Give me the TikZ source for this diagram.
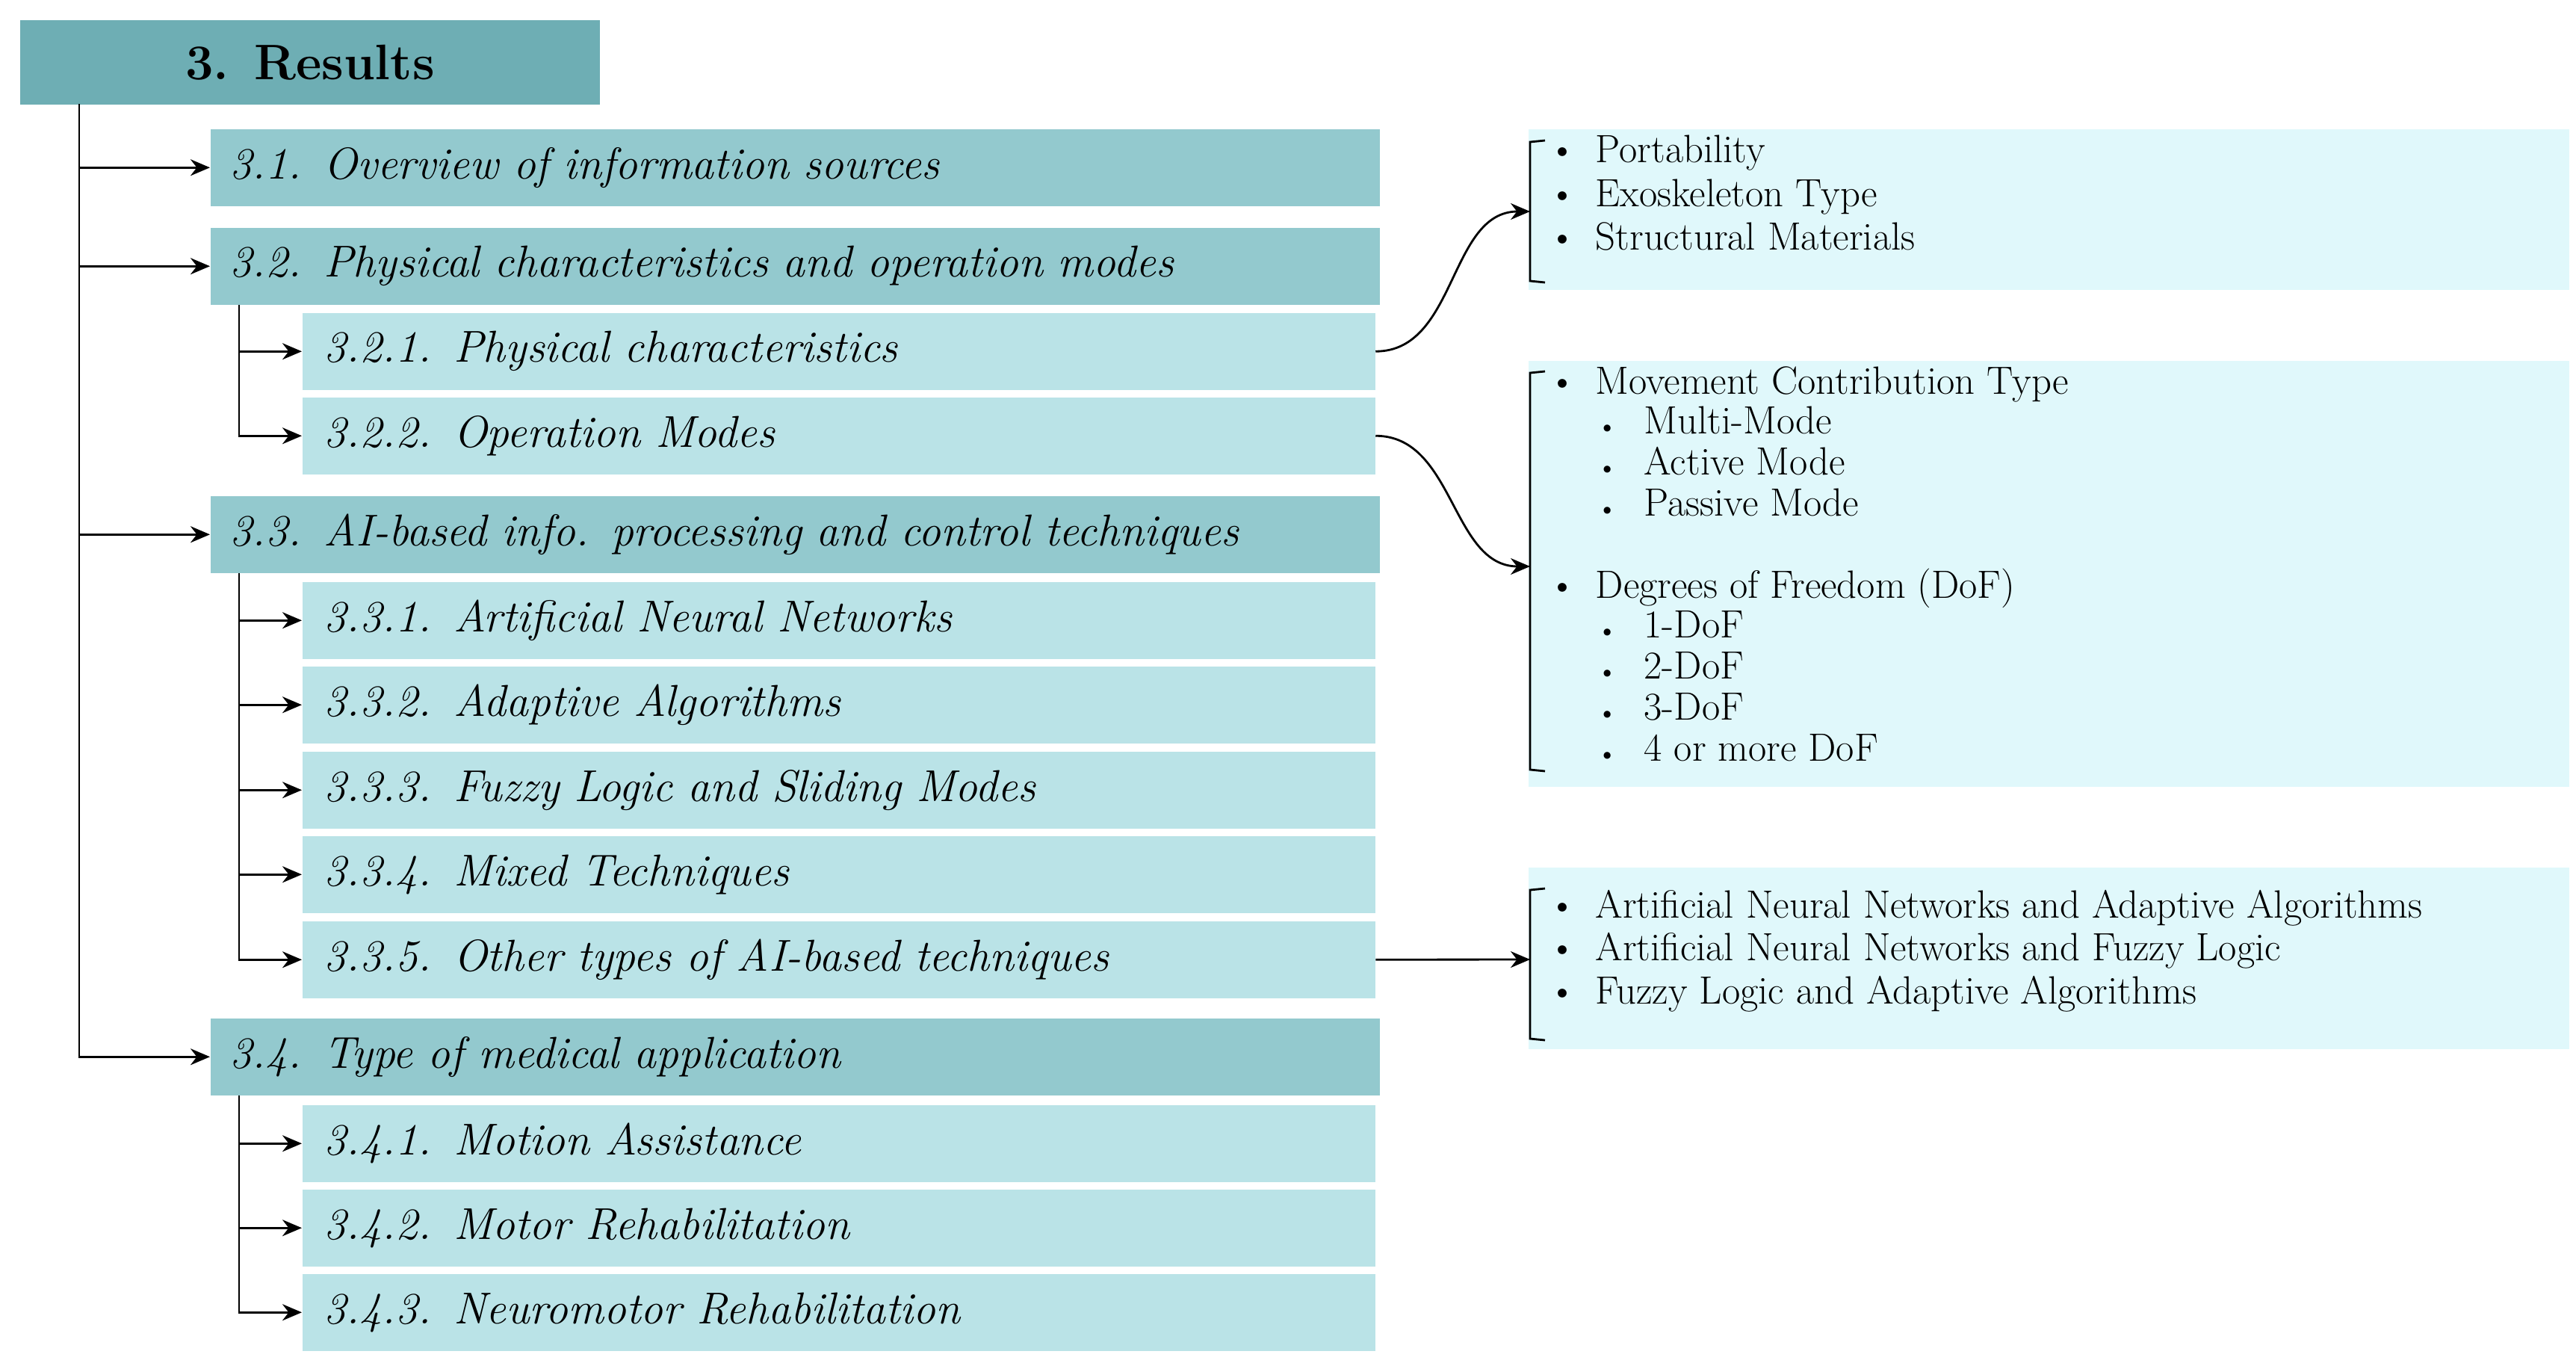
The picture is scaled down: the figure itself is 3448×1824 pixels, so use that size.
\documentclass[tikz,border=0pt]{standalone}
\usetikzlibrary{arrows.meta}
\definecolor{c0}{HTML}{6EAEB4}
\definecolor{c1}{HTML}{93C9CE}
\definecolor{c2}{HTML}{BAE3E7}
\definecolor{c3}{HTML}{E0F8FB}
\begin{document}
\begin{tikzpicture}[x=0.01cm,y=-0.01cm,
  l1/.style={fill=c1,anchor=north west,minimum height=10.3mm,text width=151.2mm,inner xsep=2.6mm,inner ysep=0pt,align=left,font=\fontsize{17}{20}\selectfont\itshape},
  l2/.style={fill=c2,anchor=north west,minimum height=10.3mm,text width=137.7mm,inner xsep=2.9mm,inner ysep=0pt,align=left,font=\fontsize{17}{20}\selectfont\itshape},
  rb/.style={fill=c3,anchor=north west,inner sep=0pt},
  it/.style={anchor=base west,inner sep=0pt,font=\fontsize{15}{18}\selectfont},
  bl/.style={anchor=base west,inner sep=0pt,font=\fontsize{15}{18}\selectfont},
  sb/.style={anchor=base west,inner sep=0pt,font=\fontsize{9}{10}\selectfont},
  arr/.style={line width=0.8pt,-{Stealth[length=2.6mm,width=2.2mm]}},
  br/.style={line width=0.8pt}]
\useasboundingbox (0,0) rectangle (3448,1824);
% title
\node[fill=c0,anchor=north west,minimum width=77.6mm,minimum height=11.3mm,inner sep=0pt,font=\fontsize{19}{22}\selectfont\bfseries] (title) at (26,26) {3. Results};
% level 1
\node[l1] (n31) at (281,172) {3.1. Overview of information sources};
\node[l1] (n32) at (281,304) {3.2. Physical characteristics and operation modes};
\node[l1] (n33) at (281,663) {3.3. AI-based info. processing and control techniques};
\node[l1] (n34) at (281,1362) {3.4. Type of medical application};
% level 2
\node[l2] (n321) at (404,418) {3.2.1. Physical characteristics};
\node[l2] (n322) at (404,531) {3.2.2. Operation Modes};
\node[l2] (n331) at (404,778) {3.3.1. Artificial Neural Networks};
\node[l2] (n332) at (404,891) {3.3.2. Adaptive Algorithms};
\node[l2] (n333) at (404,1005) {3.3.3. Fuzzy Logic and Sliding Modes};
\node[l2] (n334) at (404,1118) {3.3.4. Mixed Techniques};
\node[l2] (n335) at (404,1232) {3.3.5. Other types of AI-based techniques};
\node[l2] (n341) at (404,1478) {3.4.1. Motion Assistance};
\node[l2] (n342) at (404,1591) {3.4.2. Motor Rehabilitation};
\node[l2] (n343) at (404,1704) {3.4.3. Neuromotor Rehabilitation};
% trunks
\coordinate (t0) at (106,139);
\foreach \n in {n31,n32,n33,n34} \draw[arr] (t0) |- (\n.west);
\coordinate (t32) at (320,408);
\foreach \n in {n321,n322} \draw[arr] (t32) |- (\n.west);
\coordinate (t33) at (320,767);
\foreach \n in {n331,n332,n333,n334,n335} \draw[arr] (t33) |- (\n.west);
\coordinate (t34) at (320,1466);
\foreach \n in {n341,n342,n343} \draw[arr] (t34) |- (\n.west);
% right boxes
\node[rb,minimum width=139.2mm,minimum height=21.5mm] (bA) at (2045,172) {};
\node[rb,minimum width=139.2mm,minimum height=57mm] (bB) at (2045,482) {};
\node[rb,minimum width=139.2mm,minimum height=24.3mm] (bC) at (2045,1160) {};
% brackets
\coordinate (pA) at (2048,283);
\coordinate (pB) at (2048,758);
\coordinate (pC) at (2048,1284);
\draw[br] (2068,188) -- (2048,190) -- (2048,376) -- (2068,378);
\draw[br] (2068,497) -- (2048,499) -- (2048,1030) -- (2068,1032);
\draw[br] (2068,1189) -- (2048,1191) -- (2048,1390) -- (2068,1392);
\draw[br] (pA) -- +(-10,0); \draw[br] (pB) -- +(-10,0); \draw[br] (pC) -- +(-10,0);
% connectors
\draw[arr] (n321.east) to[out=0,in=180] (pA);
\draw[arr] (n322.east) to[out=0,in=180] (pB);
\draw[arr] (n335.east) -- (pC);
% texts A
\node[bl] at (2072,217) {\textbullet}; \node[it] at (2135,217) {Portability};
\node[bl] at (2072,276) {\textbullet}; \node[it] at (2135,276) {Exoskeleton Type};
\node[bl] at (2072,334) {\textbullet}; \node[it] at (2135,334) {Structural Materials};
% texts B
\node[bl] at (2072,527) {\textbullet}; \node[it] at (2135,527) {Movement Contribution Type};
\node[sb] at (2138,580) {\textbullet}; \node[it] at (2200,580) {Multi-Mode};
\node[sb] at (2138,635) {\textbullet}; \node[it] at (2200,635) {Active Mode};
\node[sb] at (2138,690) {\textbullet}; \node[it] at (2200,690) {Passive Mode};
\node[bl] at (2072,800) {\textbullet}; \node[it] at (2135,800) {Degrees of Freedom (DoF)};
\node[sb] at (2138,853) {\textbullet}; \node[it] at (2200,853) {1-DoF};
\node[sb] at (2138,908) {\textbullet}; \node[it] at (2200,908) {2-DoF};
\node[sb] at (2138,963) {\textbullet}; \node[it] at (2200,963) {3-DoF};
\node[sb] at (2138,1018) {\textbullet}; \node[it] at (2200,1018) {4 or more DoF};
% texts C
\node[bl] at (2072,1228) {\textbullet}; \node[it] at (2135,1228) {Artificial Neural Networks and Adaptive Algorithms};
\node[bl] at (2072,1285) {\textbullet}; \node[it] at (2135,1285) {Artificial Neural Networks and Fuzzy Logic};
\node[bl] at (2072,1343) {\textbullet}; \node[it] at (2135,1343) {Fuzzy Logic and Adaptive Algorithms};
\end{tikzpicture}
\end{document}
